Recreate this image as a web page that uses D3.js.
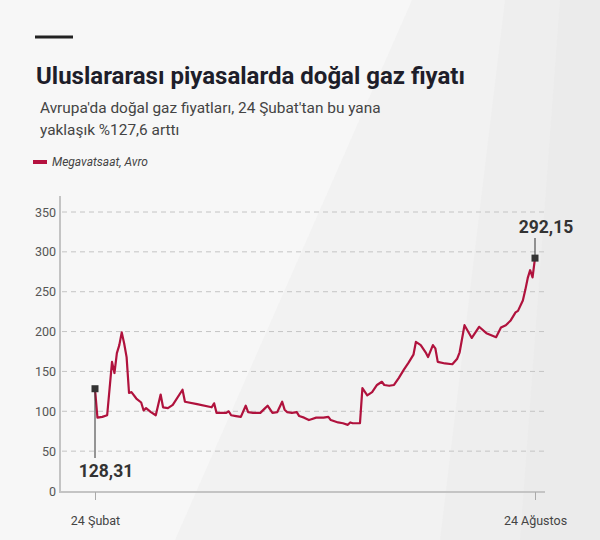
<!DOCTYPE html>
<html><head><meta charset="utf-8">
<script src="https://cdn.jsdelivr.net/npm/d3@7"></script>
<style>html,body{margin:0;padding:0;background:#f7f7f7;}svg{display:block;font-family:Roboto,"Noto Sans",sans-serif;}</style>
</head><body>
<script>
// days since 24 Şubat 2022
const days = [0,1,3,5,7,8,9,10,11,12,13,14,15,17,19,20,21,23,25,27,28,30,32,36,37,42,48,49,50,54,55,56,58,60,62,63,65,68,70,71,73,75,77,78,79,81,83,84,86,88,89,91,94,96,97,100,102,104,105,106,109,110,112,114,116,118,119,121,123,125,127,129,131,132,134,136,137,139,140,141,144,147,149,150,152,155,158,161,165,167,169,171,173,174,176,177,178,179,180,181];
const prices = [128.31,92,93,95,162,148,173,183,199,185,168,123,124,116,111,101,104,99,95,121,105,104,108,127,112,109,105,110,98,98,100,95,94,93,107,99,98,98,104,107,98,99,112,102,99,98,99,94,92,89,90,92,92,93,89,86,85,83,86,85,85,129,120,124,133,137,133,132,133,142,152,161,171,187,183,174,168,183,179,162,160,159,166,174,208,192,206,198,193,205,208,214,224,226,239,252,267,277,268,292.15];
const yTicks = [0,50,100,150,200,250,300,350];
const xTickDays = [0,181];
const xTickLabels = ["24 Şubat","24 Ağustos"];
const title = "Uluslararası piyasalarda doğal gaz fiyatı";
const subtitle = ["Avrupa'da doğal gaz fiyatları, 24 Şubat'tan bu yana","yaklaşık %127,6 arttı"];
const legendLabel = "Megavatsaat, Avro";
const labels = ["128,31","292,15"];

const W=600,H=540;
const svg=d3.select("body").append("svg").attr("width",W).attr("height",H);
svg.append("rect").attr("width",W).attr("height",H).attr("fill","#f7f7f7");
svg.append("polygon").attr("points","412,0 600,0 600,540 175,540").attr("fill","#f2f2f2");
svg.append("polygon").attr("points","505,0 600,0 600,540 440,540").attr("fill","#eeeeee");
svg.append("polygon").attr("points","560,0 600,0 600,540 520,540").attr("fill","#ebebeb");

svg.append("rect").attr("x",35).attr("y",35.5).attr("width",38).attr("height",3).attr("fill","#222");
svg.append("text").attr("x",36).attr("y",84).attr("font-size",24).attr("font-weight",700).attr("fill","#1e1e2a").text(title);
subtitle.forEach((s,i)=>svg.append("text").attr("x",40).attr("y",113+i*22).attr("font-size",15.4).attr("fill","#444").text(s));
svg.append("rect").attr("x",33).attr("y",160).attr("width",14).attr("height",4).attr("fill","#b5123f");
svg.append("text").attr("x",52).attr("y",166).attr("font-size",12).attr("font-style","italic").attr("fill","#444").text(legendLabel);

const x=d3.scaleLinear().domain([0,181]).range([95,535]);
const y=d3.scaleLinear().domain([0,350]).range([491,212]);

svg.append("g").selectAll("line").data(yTicks.filter(d=>d>0)).join("line")
 .attr("x1",62).attr("x2",545).attr("y1",d=>y(d)).attr("y2",d=>y(d))
 .attr("stroke","#c4c4c4").attr("stroke-width",1).attr("stroke-dasharray","5,4");

const ya=svg.append("g").attr("transform","translate(56,0)").call(d3.axisLeft(y).tickValues(yTicks).tickSize(0).tickPadding(0));
ya.select(".domain").remove();
ya.selectAll("text").attr("font-size",12.5).attr("fill","#555").attr("font-family","Roboto,sans-serif");

svg.append("line").attr("x1",60).attr("x2",60).attr("y1",196).attr("y2",493).attr("stroke","#c4c4c4").attr("stroke-width",2);
svg.append("line").attr("x1",59).attr("x2",545).attr("y1",492).attr("y2",492).attr("stroke","#c4c4c4").attr("stroke-width",2);

const xa=svg.append("g").attr("transform","translate(0,492)").call(d3.axisBottom(x).tickValues(xTickDays).tickFormat((d,i)=>xTickLabels[i]).tickSize(8).tickPadding(16));
xa.select(".domain").remove();
xa.selectAll("line").attr("stroke","#aaa");
xa.selectAll("text").attr("font-size",12.5).attr("fill","#444").attr("font-family","Roboto,sans-serif");

const data=days.map((d,i)=>({d,v:prices[i]}));
svg.append("path").datum(data).attr("fill","none").attr("stroke","#b0123d").attr("stroke-width",2.2).attr("stroke-linejoin","round")
 .attr("d",d3.line().x(p=>x(p.d)).y(p=>y(p.v)));

const first=data[0],last=data[data.length-1];
svg.append("line").attr("x1",x(first.d)).attr("x2",x(first.d)).attr("y1",y(first.v)).attr("y2",458).attr("stroke","#333").attr("stroke-width",1);
svg.append("line").attr("x1",x(last.d)).attr("x2",x(last.d)).attr("y1",y(last.v)).attr("y2",238).attr("stroke","#333").attr("stroke-width",1);
[first,last].forEach(p=>svg.append("rect").attr("x",x(p.d)-3.5).attr("y",y(p.v)-3.5).attr("width",7).attr("height",7).attr("fill","#333"));
svg.append("text").attr("x",106).attr("y",477).attr("text-anchor","middle").attr("font-size",17.5).attr("font-weight",700).attr("fill","#333").text(labels[0]);
svg.append("text").attr("x",546).attr("y",233).attr("text-anchor","middle").attr("font-size",17.5).attr("font-weight",700).attr("fill","#333").text(labels[1]);
</script>
</body></html>
